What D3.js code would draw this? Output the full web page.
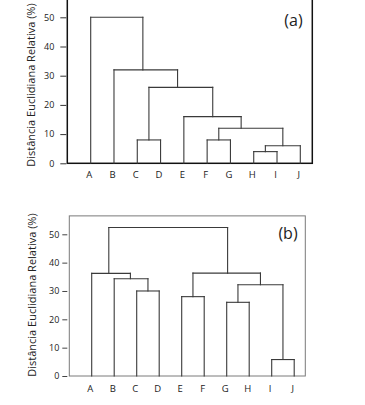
<!DOCTYPE html>
<html>
<head>
<meta charset="utf-8">
<script src="https://cdn.jsdelivr.net/npm/d3@7"></script>
<style>
  html, body { margin: 0; padding: 0; background: #fff; }
  svg { display: block; }
  text { font-family: "Open Sans", "Noto Sans", sans-serif; fill: #222; }
</style>
</head>
<body>
<svg id="chart" width="365" height="405"></svg>
<script>
// ---------- data ----------
const leaves = ["A", "B", "C", "D", "E", "F", "G", "H", "I", "J"];
const yTicks = [0, 10, 20, 30, 40, 50];
const yTitle = "Distância Euclidiana Relativa (%)";

// Panel (a): merges in order; numbers refer to earlier merges, letters to leaves
const aChildren = [["C", "D"], ["F", "G"], ["H", "I"], [2, "J"], [1, 3], ["E", 4], [0, 5], ["B", 6], ["A", 7]];
const aHeights  = [8, 8, 4, 6, 12, 16, 26, 32, 50];
const aNodePos  = [2.5, 5.5, 7.5, 8.25, 6.46, 5.24, 3.73, 2.24, 1.12]; // node position in leaf units

// Panel (b)
const bChildren = [["C", "D"], ["B", 0], ["A", 1], ["E", "F"], ["G", "H"], ["I", "J"], [4, 5], [3, 6], [2, 7]];
const bHeights  = [30, 34.3, 36.2, 28, 26, 5.8, 32.2, 36.3, 52.4];
const bNodePos  = [2.5, 1.72, 0.76, 4.5, 6.5, 8.5, 7.5, 6.04, 3.4];

// ---------- drawing ----------
const svg = d3.select("#chart");

function drawPanel(cfg) {
  const g = svg.append("g");
  const x = d3.scaleLinear().domain([0, leaves.length - 1]).range([cfg.x0, cfg.x9]);
  const y = d3.scaleLinear().domain([0, 50]).range([cfg.y0, cfg.y50]);

  // frame
  g.append("rect")
    .attr("x", cfg.left).attr("y", y(cfg.yMax))
    .attr("width", cfg.right - cfg.left).attr("height", y(0) - y(cfg.yMax))
    .attr("fill", "none").attr("stroke", cfg.frameColor).attr("stroke-width", cfg.frameWidth);

  // y axis ticks + labels
  const yAxis = d3.axisLeft(y).tickValues(yTicks).tickSize(cfg.tickLen).tickPadding(cfg.tickPad);
  const ya = g.append("g").attr("transform", `translate(${cfg.left - cfg.tickGap},0)`).call(yAxis);
  ya.select(".domain").remove();
  ya.selectAll(".tick line").attr("stroke", cfg.tickColor).attr("stroke-width", 1);
  ya.selectAll(".tick text").attr("font-size", 9).attr("fill", "#222")
    .style("font-family", "'Open Sans', sans-serif");

  // x labels
  g.selectAll("text.xl").data(leaves).enter().append("text")
    .attr("class", "xl")
    .attr("x", (d, i) => x(i) - 1.5)
    .attr("y", cfg.xLabelY)
    .attr("text-anchor", "middle")
    .attr("font-size", 9.5)
    .text(d => d);

  // y title
  g.append("text")
    .attr("transform", `translate(${cfg.titleX},${cfg.titleCY}) rotate(-90)`)
    .attr("text-anchor", "middle")
    .attr("font-size", 11)
    .text(yTitle);

  // panel letter
  g.append("text")
    .attr("x", cfg.letterX).attr("y", cfg.letterY)
    .attr("text-anchor", "middle")
    .attr("font-size", 16)
    .text(cfg.letter);

  // dendrogram
  const posOf = c => (typeof c === "number") ? { p: cfg.pos[c], h: cfg.heights[c] } : { p: leaves.indexOf(c), h: 0 };
  const segs = [];
  cfg.children.forEach((pair, k) => {
    const h = cfg.heights[k];
    const l = posOf(pair[0]), r = posOf(pair[1]);
    segs.push({ x1: x(l.p), y1: y(h), x2: x(r.p), y2: y(h) });
    segs.push({ x1: x(l.p), y1: y(l.h), x2: x(l.p), y2: y(h) });
    segs.push({ x1: x(r.p), y1: y(r.h), x2: x(r.p), y2: y(h) });
  });
  g.selectAll("line.seg").data(segs).enter().append("line")
    .attr("class", "seg")
    .attr("x1", d => d.x1).attr("y1", d => d.y1)
    .attr("x2", d => d.x2).attr("y2", d => d.y2)
    .attr("stroke", cfg.lineColor).attr("stroke-width", 1.1)
    .attr("stroke-linecap", "square");
}

drawPanel({
  children: aChildren, heights: aHeights, pos: aNodePos,
  x0: 90.7, x9: 300.3, y0: 163.3, y50: 17.3, yMax: 56.5,
  left: 67.3, right: 312.3,
  frameColor: "#111", frameWidth: 1.5, tickColor: "#333",
  tickLen: 6, tickPad: 6, tickGap: 1,
  xLabelY: 178, titleX: 35, titleCY: 85, letter: "(a)", letterX: 293.5, letterY: 26,
  lineColor: "#3a3a3a"
});

drawPanel({
  children: bChildren, heights: bHeights, pos: bNodePos,
  x0: 91.7, x9: 294.2, y0: 376, y50: 234.3, yMax: 56.5,
  left: 69.3, right: 305.3,
  frameColor: "#7a7a7a", frameWidth: 1, tickColor: "#444",
  tickLen: 5, tickPad: 3, tickGap: 2,
  xLabelY: 391.5, titleX: 36, titleCY: 295, letter: "(b)", letterX: 288, letterY: 239,
  lineColor: "#3a3a3a"
});
</script>
</body>
</html>
